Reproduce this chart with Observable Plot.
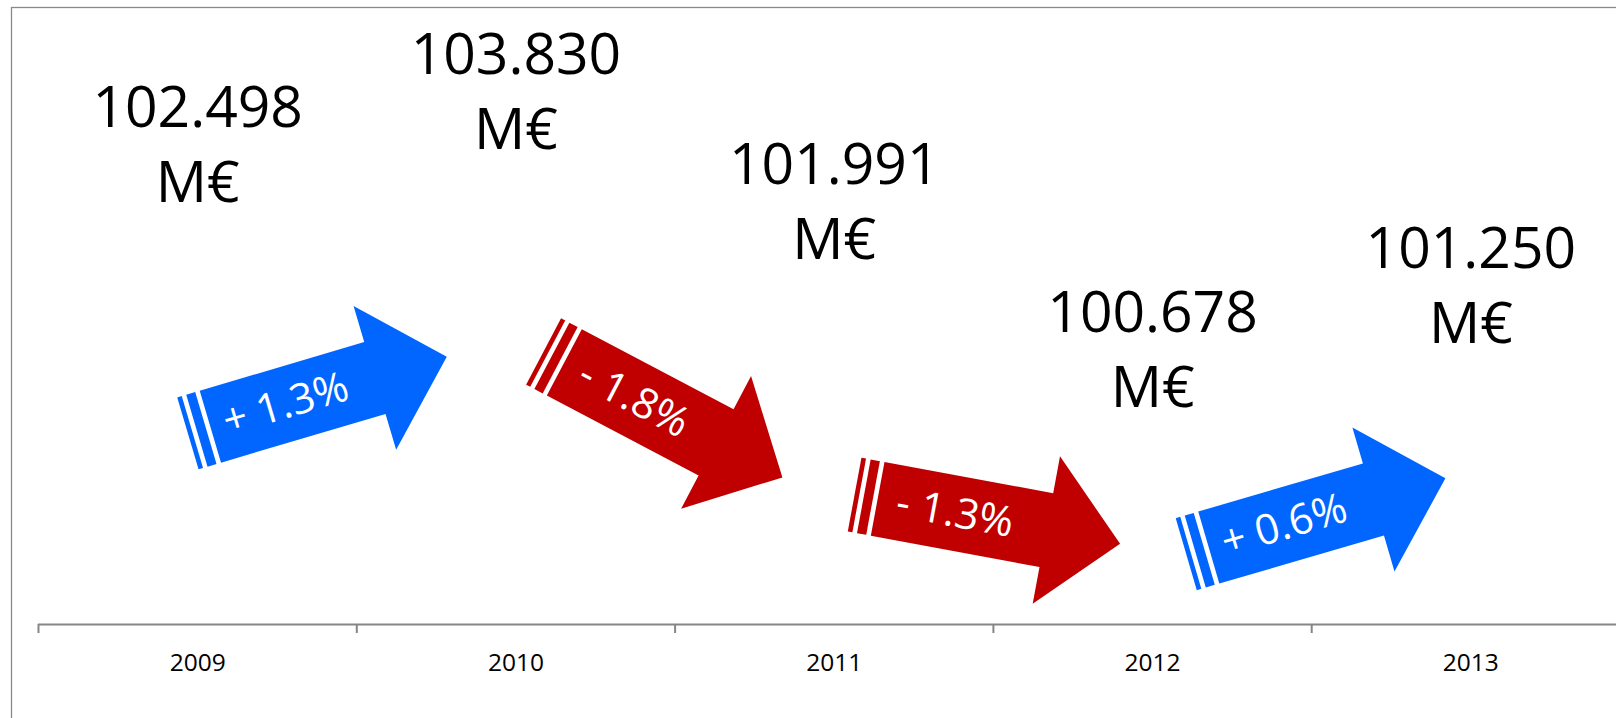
<!DOCTYPE html>
<html>
<head>
<meta charset="utf-8">
<script src="https://cdn.jsdelivr.net/npm/d3@7"></script>
<script src="https://cdn.jsdelivr.net/npm/@observablehq/plot@0.6"></script>
<style>
  html, body { margin: 0; padding: 0; background: #fff; overflow: hidden; }
  #chart svg { display: block; }
</style>
</head>
<body>
<div id="chart"></div>
<script>
// ---- data ----
const years = [2009, 2010, 2011, 2012, 2013];
const revenue = [102.498, 103.830, 101.991, 100.678, 101.250];
const unit = "M€";

// ---- layout / styling ----
const W = 1616, H = 718;
const xDomain = [2008.5, 2013.5], xRange = [38, 1629.5];
const yDomain = [99, 104], yRange = [624, 59];
const blue = "#0066ff", red = "#c00000", axisGray = "#868686";
const font = "'Open Sans', 'Noto Sans', sans-serif";

// annotation arrows placement (centre in chart units, rotation in degrees)
const arrowLayout = [
  {x: 2009.376, y: 101.031, angle: -16.5},
  {x: 2010.462, y: 100.859, angle: 27.8},
  {x: 2011.481, y: 99.932, angle: 10.5},
  {x: 2012.513, y: 99.958, angle: -16.3}
];

const xs = d3.scaleLinear(xDomain, xRange);
const ys = d3.scaleLinear(yDomain, yRange);

// labels: value above point, kept inside the chart area (like Excel)
const labelCap = ys.invert(176);
const points = years.map((year, i) => ({
  year, value: revenue[i],
  label: revenue[i].toFixed(3) + "\n" + unit
}));

// striped right arrow geometry (pixels)
const L = 270, HW = 150, SW = 75, HL = 75, ss = Math.min(L, HW);
const shapes = [
  [[ss * 5 / 32, -SW / 2], [L - HL, -SW / 2], [L - HL, -HW / 2], [L, 0], [L - HL, HW / 2], [L - HL, SW / 2], [ss * 5 / 32, SW / 2]],
  [[0, -SW / 2], [ss / 32, -SW / 2], [ss / 32, SW / 2], [0, SW / 2]],
  [[ss / 16, -SW / 2], [ss / 8, -SW / 2], [ss / 8, SW / 2], [ss / 16, SW / 2]]
];
function place(a, u, v) {
  const cx = xs(a.x), cy = ys(a.y), t = a.angle * Math.PI / 180, du = u - L / 2;
  return {
    x: xs.invert(cx + du * Math.cos(t) - v * Math.sin(t)),
    y: ys.invert(cy + du * Math.sin(t) + v * Math.cos(t))
  };
}
const changes = years.slice(1).map((y, i) => {
  const pct = (revenue[i + 1] / revenue[i] - 1) * 100;
  return {
    text: (pct >= 0 ? "+ " : "- ") + Math.abs(pct).toFixed(1) + "%",
    color: pct >= 0 ? blue : red,
    layout: arrowLayout[i]
  };
});
const arrowMarks = changes.map((c, i) => {
  const pts = shapes.flatMap((poly, k) => poly.map(([u, v]) => ({...place(c.layout, u, v), z: k})));
  return Plot.line(pts, {x: "x", y: "y", z: "z", fill: c.color, stroke: "none", curve: "linear"});
});
const arrowTexts = changes.map(c => ({...place(c.layout, 102, 0), text: c.text, angle: c.layout.angle}));

const boundaries = d3.range(xDomain[0], xDomain[1] + 0.01, 1);

const chart = Plot.plot({
  width: W, height: H,
  marginLeft: 11, marginTop: 7, marginRight: 0, marginBottom: 0,
  style: {fontFamily: font, background: "#fff"},
  x: {domain: xDomain, range: xRange, axis: null},
  y: {domain: yDomain, range: yRange, axis: null},
  marks: [
    Plot.frame({stroke: "#8a8a8a", strokeWidth: 1.3, insetRight: -20, insetBottom: -20}),
    Plot.ruleY([yDomain[0]], {x1: xDomain[0], x2: xDomain[1], stroke: axisGray, strokeWidth: 2}),
    Plot.ruleX(boundaries, {y1: yDomain[0], y2: ys.invert(yRange[0] + 9), stroke: axisGray, strokeWidth: 2}),
    Plot.text(years, {x: d => d, y: yDomain[0], text: d => String(d), dy: 46, lineAnchor: "bottom", fontSize: 24.5, fill: "#000"}),
    ...arrowMarks,
    Plot.text(arrowTexts, {x: "x", y: "y", text: "text", rotate: "angle", fill: "#fff", fontSize: 42, textAnchor: "middle", lineAnchor: "middle"}),
    Plot.text(points, {x: "year", y: d => Math.min(d.value, labelCap), text: "label", lineAnchor: "bottom", dy: -27.5, fontSize: 57, lineHeight: 75 / 57, fill: "#000", textAnchor: "middle"})
  ]
});
document.getElementById("chart").appendChild(chart);
</script>
</body>
</html>
